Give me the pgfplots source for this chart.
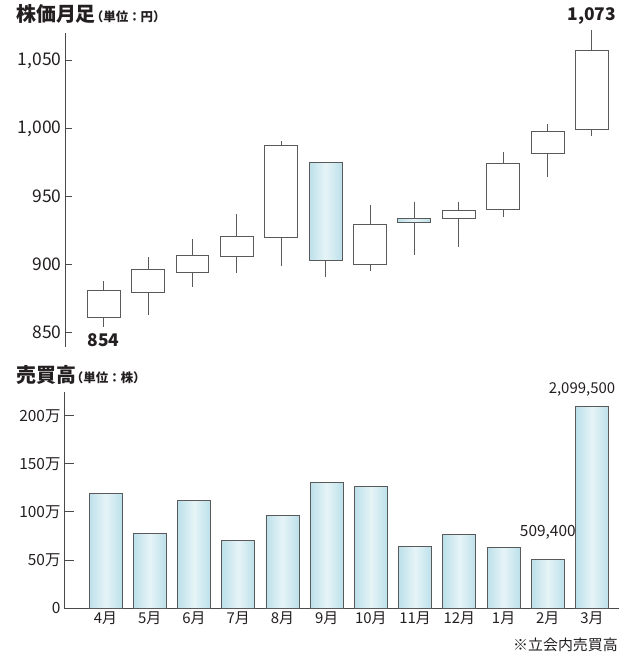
\documentclass[border=0pt]{standalone}
\usepackage{fontspec}
\setmainfont{Noto Sans CJK JP}
\usepackage{pgfplots}
\pgfplotsset{compat=1.18}
\usepgfplotslibrary{statistics}

\definecolor{edge}{HTML}{5A5A5A}
\definecolor{axisgray}{HTML}{4A4A4A}
\definecolor{ink}{HTML}{231F20}
\definecolor{barside}{HTML}{BCE0EA}
\definecolor{barmid}{HTML}{E6F4F7}

\newcommand{\fs}[1]{\fontsize{#1}{#1}\selectfont}
\tikzset{cyanfill/.style={left color=barside, right color=barside, middle color=barmid}}

% candle: position, low, body bottom, body top, high, body style
\newcommand{\candle}[6]{%
  \addplot[edge, line width=0.9bp, boxplot prepared={draw direction=y,
      draw position=#1, lower whisker=#2, lower quartile=#3, median=#3,
      upper quartile=#4, upper whisker=#5, box extend=0.74, whisker extend=0,
      every box/.style={draw=edge, #6}}] coordinates {};}

% one volume bar, shaded on its own
\newcommand{\vbar}[2]{%
  \addplot[ybar, bar width=33bp, bar shift=0pt, draw=edge, line width=0.9bp, cyanfill]
    coordinates {(#1,#2)};}

\begin{document}
\begin{tikzpicture}
\useasboundingbox (0,0) rectangle (619bp,-656bp);

\node[anchor=west, inner sep=0, text=ink] at (16bp,-14bp)
  {\bfseries\fs{20}株価月足{\fs{12.5}\kern-5bp（単位：円）}};
\node[anchor=west, inner sep=0, text=ink] at (16bp,-375bp)
  {\bfseries\fs{20}売買高{\fs{12.5}\kern-5bp（単位：株）}};

% monthly candles
\begin{axis}[
    at={(65bp,-347bp)}, anchor=south west,
    scale only axis, width=554bp, height=314bp,
    xmin=0.13, xmax=12.61, ymin=839, ymax=1070.6,
    axis y line=left, axis x line=none,
    axis line style={-, axisgray, line width=1bp},
    xtick=\empty,
    ytick={850,900,950,1000,1050},
    yticklabels={850,900,950,{1,000},{1,050}},
    yticklabel style={font=\fs{17.5}, text=ink},
    tick align=inside, major tick length=7bp,
    tick style={axisgray, line width=0.9bp},
    clip=false,
]
\candle{1}{854}{861}{880.5}{888}{fill=white}
\candle{2}{862.5}{879}{896}{905.5}{fill=white}
\candle{3}{883}{893.7}{906.5}{918.4}{fill=white}
\candle{4}{893.7}{905.5}{920.3}{936.8}{fill=white}
\candle{5}{899}{919.8}{987.4}{990.6}{fill=white}
\candle{6}{890.8}{903}{975}{975}{cyanfill}
\candle{7}{895}{900}{929.4}{943.7}{fill=white}
\candle{8}{906.8}{931}{934}{945.8}{cyanfill}
\candle{9}{912.9}{933.6}{939.5}{946.2}{fill=white}
\candle{10}{934.6}{940.5}{974.4}{983}{fill=white}
\candle{11}{964.5}{981.5}{998.3}{1003.2}{fill=white}
\candle{12}{994.8}{999.3}{1057.4}{1073}{fill=white}
\node[anchor=north, inner sep=0, yshift=-7bp, text=ink] at (axis cs:1,854)
  {\bfseries\fs{17.5}854};
\node[anchor=south, inner sep=0, yshift=5.5bp, text=ink] at (axis cs:12,1073)
  {\bfseries\fs{17.5}1,073};
\end{axis}

% trading volume
\begin{axis}[
    at={(64bp,-608bp)}, anchor=south west,
    scale only axis, width=555bp, height=216.5bp,
    xmin=0.06, xmax=12.61, ymin=0, ymax=2253000,
    axis lines=left,
    axis line style={-, axisgray, line width=1bp},
    xtick={1,...,12},
    xticklabels={4月,5月,6月,7月,8月,9月,10月,11月,12月,1月,2月,3月},
    major x tick style={draw=none},
    xticklabel style={font=\fs{15}, text=ink},
    ytick={0,500000,1000000,1500000,2000000},
    yticklabels={0,50万,100万,150万,200万},
    yticklabel style={font=\fs{15.5}, text=ink},
    scaled y ticks=false,
    tick align=inside, major tick length=10bp,
    tick style={axisgray, line width=0.9bp},
    clip=false,
]
\vbar{1}{1195000}
\vbar{2}{776000}
\vbar{3}{1119000}
\vbar{4}{703000}
\vbar{5}{967000}
\vbar{6}{1310000}
\vbar{7}{1265000}
\vbar{8}{644000}
\vbar{9}{769000}
\vbar{10}{627000}
\vbar{11}{509400}
\vbar{12}{2099500}
\node[anchor=south, inner sep=0, yshift=19bp, text=ink] at (axis cs:11,509400)
  {\fs{15.5}509,400};
\node[anchor=south east, inner sep=0, yshift=10bp, text=ink] at (554bp,2099500)
  {\fs{15}2,099,500};
\end{axis}

\node[anchor=east, inner sep=0, text=ink] at (618bp,-645bp) {\fs{15}※立会内売買高};
\end{tikzpicture}
\end{document}
